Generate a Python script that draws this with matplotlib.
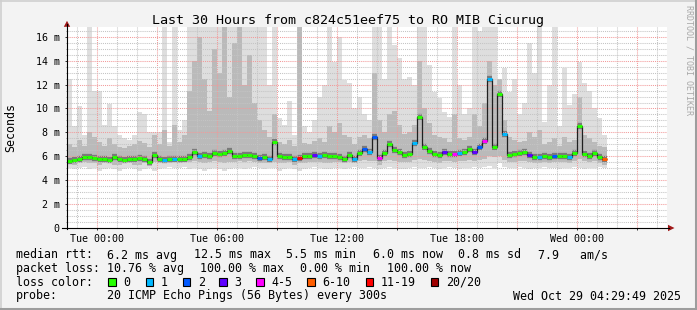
import matplotlib
matplotlib.use('Agg')
import matplotlib.pyplot as plt
import numpy as np
from matplotlib.lines import Line2D
from matplotlib.patches import Rectangle, Polygon
from matplotlib.ticker import FixedLocator, MultipleLocator

plt.rcParams['font.family'] = ['DejaVu Sans Mono']

# ---------------- data ----------------
title = "Last 30 Hours from c824c51eef75 to RO MIB Cicurug"
# time axis in hours relative to Tue 00:00
x_start, x_end = -1.5, 28.5
data_start, data_step = -1.5, 0.25          # 15-minute intervals
x_tick_hours = [0, 6, 12, 18, 24]
x_tick_labels = ["Tue 00:00", "Tue 06:00", "Tue 12:00", "Tue 18:00", "Wed 00:00"]
y_tick_values = [0, 2, 4, 6, 8, 10, 12, 14, 16]
y_tick_labels = ["0", "2 m", "4 m", "6 m", "8 m", "10 m", "12 m", "14 m", "16 m"]

# median rtt (ms)
median = [
    5.60, 5.65, 5.75, 5.95, 5.95, 5.85, 5.75, 5.80, 5.70, 5.95,
    5.75, 5.70, 5.80, 5.75, 5.85, 5.80, 5.50, 6.15, 5.80, 5.70,
    5.80, 5.75, 5.80, 5.75, 5.90, 6.35, 6.05, 6.10, 6.00, 6.30,
    6.20, 6.25, 6.45, 6.00, 6.05, 6.10, 6.10, 6.05, 5.85, 5.90,
    5.80, 7.20, 6.00, 5.95, 5.95, 5.80, 5.85, 6.00, 6.00, 6.10,
    6.05, 6.10, 6.00, 6.05, 5.90, 5.75, 6.10, 5.80, 6.30, 6.60,
    6.40, 7.60, 5.85, 6.30, 7.00, 6.55, 6.40, 6.15, 6.20, 7.10,
    9.30, 6.80, 6.45, 6.20, 6.15, 6.40, 6.20, 6.20, 6.30, 6.40,
    6.60, 6.40, 6.80, 7.30, 12.50, 6.80, 11.20, 7.90, 6.10, 6.20,
    6.30, 6.35, 6.15, 5.95, 5.90, 6.05, 5.95, 6.00, 6.00, 6.05,
    5.95, 6.30, 8.50, 6.20, 6.00, 6.30, 5.90, 5.80]

# lost pings out of 20 per interval
loss = [
    0, 0, 0, 0, 0, 0, 0, 0, 0, 0,
    0, 0, 0, 0, 0, 0, 0, 0, 0, 1,
    0, 1, 0, 0, 0, 0, 1, 0, 0, 0,
    0, 0, 0, 0, 0, 0, 0, 0, 2, 0,
    1, 0, 0, 0, 0, 1, 15, 0, 0, 3,
    1, 0, 0, 0, 0, 0, 0, 1, 0, 2,
    1, 2, 5, 0, 0, 0, 0, 0, 0, 1,
    0, 0, 0, 0, 0, 3, 0, 5, 1, 0,
    0, 3, 2, 5, 1, 0, 0, 1, 0, 0,
    0, 0, 3, 0, 1, 0, 0, 2, 0, 0,
    1, 0, 0, 0, 0, 0, 0, 8]

# smoke: lowest ping, lower quartile, upper quartile, highest ping (ms)
smoke_lo = [
    5.0, 4.9, 5.0, 5.1, 4.9, 5.0, 4.8, 4.9, 5.0, 4.9,
    4.8, 4.9, 5.0, 4.9, 4.8, 4.9, 5.0, 4.8, 4.9, 5.0,
    5.1, 5.0, 5.0, 5.1, 4.9, 5.0, 4.9, 4.8, 4.9, 5.0,
    4.9, 4.8, 4.9, 5.0, 5.0, 4.9, 5.0, 5.1, 5.0, 4.9,
    5.0, 5.0, 4.8, 4.9, 5.0, 4.9, 4.8, 4.9, 5.0, 5.1,
    5.0, 4.9, 4.9, 5.0, 5.0, 4.9, 5.0, 5.1, 5.0, 5.0,
    5.1, 5.0, 4.9, 5.0, 5.1, 5.0, 4.9, 4.9, 5.0, 5.1,
    5.0, 5.0, 5.1, 5.0, 4.9, 5.0, 5.1, 5.0, 4.9, 5.0,
    5.0, 5.1, 5.0, 5.1, 5.2, 5.0, 5.4, 5.1, 5.0, 5.0,
    5.1, 5.0, 4.9, 5.0, 5.0, 5.1, 5.0, 5.0, 4.9, 5.0,
    5.0, 5.1, 5.0, 4.9, 5.0, 5.0, 5.1, 5.0]
smoke_p25 = [
    5.4, 5.3, 5.4, 5.5, 5.4, 5.4, 5.3, 5.4, 5.4, 5.3,
    5.3, 5.4, 5.4, 5.3, 5.3, 5.4, 5.2, 5.5, 5.4, 5.4,
    5.4, 5.5, 5.4, 5.5, 5.5, 5.6, 5.5, 5.4, 5.5, 5.6,
    5.5, 5.4, 5.5, 5.5, 5.6, 5.5, 5.6, 5.5, 5.4, 5.4,
    5.4, 5.5, 5.4, 5.4, 5.5, 5.3, 5.4, 5.4, 5.5, 5.5,
    5.5, 5.4, 5.4, 5.5, 5.5, 5.4, 5.5, 5.4, 5.6, 5.7,
    5.6, 5.6, 5.3, 5.6, 5.7, 5.6, 5.5, 5.5, 5.5, 5.7,
    5.8, 5.7, 5.6, 5.5, 5.4, 5.6, 5.6, 5.5, 5.6, 5.6,
    5.7, 5.6, 5.7, 5.8, 6.0, 5.9, 6.0, 5.7, 5.5, 5.5,
    5.6, 5.6, 5.5, 5.4, 5.4, 5.5, 5.4, 5.5, 5.5, 5.5,
    5.4, 5.6, 5.8, 5.6, 5.5, 5.6, 5.4, 5.3]
smoke_p75 = [
    7.0, 6.8, 7.4, 6.9, 8.0, 7.6, 7.2, 6.9, 7.5, 7.0,
    6.8, 6.7, 6.9, 7.0, 7.3, 7.1, 6.8, 7.8, 7.0, 8.2,
    6.9, 8.6, 7.2, 7.8, 11.5, 14.0, 16.0, 12.5, 9.8, 15.0,
    13.0, 17.5, 11.0, 15.5, 18.0, 12.0, 14.5, 10.5, 9.0, 8.2,
    7.6, 9.5, 7.2, 7.0, 7.4, 6.9, 18.0, 7.1, 7.0, 7.3,
    7.5, 7.2, 8.5, 8.0, 8.8, 7.8, 7.6, 7.0, 7.6, 7.8,
    7.5, 13.0, 9.0, 8.0, 9.5, 9.8, 8.6, 7.9, 8.0, 8.6,
    14.0, 10.0, 8.8, 7.8, 7.6, 7.5, 7.2, 9.5, 7.5, 7.4,
    7.6, 9.5, 8.5, 10.5, 14.0, 12.0, 12.5, 9.0, 7.6, 7.4,
    7.2, 7.3, 8.0, 7.6, 8.2, 7.0, 7.2, 7.5, 6.9, 7.6,
    7.2, 7.4, 11.0, 7.8, 7.5, 7.2, 6.9, 6.8]
smoke_hi = [
    12.5, 8.5, 10.2, 7.8, 18.0, 11.5, 11.5, 8.6, 10.4, 8.5,
    7.8, 7.5, 7.4, 7.8, 9.7, 9.5, 8.0, 8.0, 8.0, 18.0,
    7.2, 18.0, 8.2, 9.0, 18.0, 18.0, 18.0, 18.0, 18.0, 18.0,
    18.0, 18.0, 18.0, 18.0, 18.0, 18.0, 18.0, 18.0, 18.0, 18.0,
    12.0, 18.0, 9.2, 8.6, 10.6, 7.8, 18.0, 8.5, 8.0, 9.0,
    11.0, 12.0, 18.0, 13.9, 16.0, 12.4, 12.1, 10.0, 11.0, 9.5,
    9.0, 18.0, 18.0, 12.5, 18.0, 15.3, 14.2, 12.5, 12.6, 12.0,
    18.0, 18.0, 13.6, 11.4, 10.9, 9.7, 9.3, 18.0, 12.0, 9.5,
    10.0, 18.0, 16.5, 18.0, 18.0, 18.0, 12.5, 13.4, 11.4, 12.5,
    9.5, 10.5, 15.5, 13.0, 18.0, 8.9, 12.0, 18.0, 8.5, 13.4,
    10.3, 11.2, 13.9, 12.1, 11.5, 10.0, 9.2, 7.8]

loss_labels = ["0", "1", "2", "3", "4-5", "6-10", "11-19", "20/20"]
loss_colors = ["#26ff00", "#00b8ff", "#0059ff", "#5e00ff", "#ff00ff",
               "#ff5e00", "#ff0000", "#a00000"]
loss_upper = [0, 1, 2, 3, 5, 10, 19, 20]

legend_rtt = ["median rtt:", "6.2 ms avg", "12.5 ms max", "5.5 ms min",
              "6.0 ms now", "0.8 ms sd", "7.9   am/s"]
legend_loss = ["packet loss:", "10.76 % avg", "100.00 % max", "0.00 % min",
               "100.00 % now"]
legend_probe = ["probe:", "20 ICMP Echo Pings (56 Bytes) every 300s",
                "Wed Oct 29 04:29:49 2025"]

# ---------------- layout ----------------
W, H = 697, 310
fig = plt.figure(figsize=(W / 100, H / 100), dpi=100)
fig.patch.set_facecolor('#f3f3f3')


def fx(x):
    return x / W


def fy(y):
    return 1 - y / H


AX_L, AX_R, AX_T, AX_B = 67, 667, 27, 228
ax = fig.add_axes([fx(AX_L), fy(AX_B), (AX_R - AX_L) / W, (AX_B - AX_T) / H])
ax.set_facecolor('white')
ax.set_xlim(x_start, x_end)
ax.set_ylim(0, 16.82)
for s in ax.spines.values():
    s.set_visible(False)

n = len(median)
edges = data_start + data_step * np.arange(n + 1)

ax.stairs(smoke_hi, edges, baseline=smoke_lo, fill=True, color='#dedede', lw=0, zorder=1)
ax.stairs(smoke_p75, edges, baseline=smoke_p25, fill=True, color='#bababa', lw=0, zorder=1.2)
# dark core around the median (horizontal parts only)
ax.hlines(median, edges[:-1], edges[1:], colors='#7a7a7a', lw=4.5, zorder=1.4,
          capstyle='butt')
# thin dark connecting line between intervals
ax.stairs(median, edges, baseline=None, color='#202020', lw=0.9, zorder=3)


def loss_color(c):
    for up, col in zip(loss_upper, loss_colors):
        if c <= up:
            return col
    return loss_colors[-1]


seg_colors = [loss_color(c) for c in loss]
ax.hlines(median, edges[:-1], edges[1:], colors=seg_colors, lw=2.2, zorder=4,
          capstyle='butt')

# grid
major_x = np.arange(0, 28.5, 3)
ax.xaxis.set_major_locator(FixedLocator(major_x))
ax.xaxis.set_minor_locator(FixedLocator(np.arange(-1, 28.5, 1)))
lab_map = dict(zip(x_tick_hours, x_tick_labels))
ax.set_xticklabels([lab_map.get(int(t), "") for t in major_x])
ax.yaxis.set_major_locator(FixedLocator(y_tick_values))
ax.set_yticklabels(y_tick_labels)
ax.yaxis.set_minor_locator(MultipleLocator(0.5))
ax.set_axisbelow(False)
ax.grid(which='minor', color='#c4c4c4', linestyle=(0, (1, 1)), lw=0.75)
ax.grid(which='major', color='#f29a9a', linestyle=(0, (1, 1)), lw=0.75)
ax.tick_params(axis='both', which='both', labelsize=7.2, colors='#000000')
ax.tick_params(axis='x', which='major', length=1.5, width=0.7, pad=2.8, color='#333333')
ax.tick_params(axis='x', which='minor', length=0)
ax.tick_params(axis='y', which='major', length=1.5, width=0.7, pad=3.9, color='#333333')
ax.tick_params(axis='y', which='minor', length=1.0, width=0.7, color='#888888')

# axes lines and arrows
fig.add_artist(Line2D([fx(67), fx(67)], [fy(228.5), fy(24)], color='black', lw=0.8))
fig.add_artist(Line2D([fx(62), fx(669)], [fy(228), fy(228)], color='black', lw=0.8))
fig.add_artist(Polygon([[fx(63.8), fy(26.8)], [fx(70.2), fy(26.8)], [fx(67), fy(20.8)]],
                       closed=True, color='#a01818', lw=0))
fig.add_artist(Polygon([[fx(668), fy(224.8)], [fx(668), fy(231.2)], [fx(674.5), fy(228)]],
                       closed=True, color='#a01818', lw=0))

# frame shading
fig.add_artist(Line2D([0, 1], [fy(0.7), fy(0.7)], color='#cfcfcf', lw=1.2))
fig.add_artist(Line2D([fx(0.7), fx(0.7)], [0, 1], color='#cfcfcf', lw=1.2))
fig.add_artist(Line2D([0, 1], [fy(308.6), fy(308.6)], color='#9d9d9d', lw=2.2))
fig.add_artist(Line2D([fx(695.6), fx(695.6)], [0, 1], color='#9d9d9d', lw=2.2))

# texts
fig.text(fx(347.7), fy(24), title, ha='center', va='baseline', fontsize=9.6)
fig.text(fx(11), fy(127.7), "Seconds", rotation=90, ha='center', va='center', fontsize=8.4)
fig.text(fx(688.5), fy(60), "RRDTOOL / TOBI OETIKER", rotation=270, ha='center',
         va='center', fontsize=6.0, color='#a8a8a8')

FS = 8.4
rtt_x = [16, 107.3, 194, 286, 372.7, 458.3, 537.7]
for s, x in zip(legend_rtt, rtt_x):
    fig.text(fx(x), fy(258.5), s, ha='left', va='baseline', fontsize=FS)
loss_x = [16, 107.3, 200.5, 300, 386.7]
for s, x in zip(legend_loss, loss_x):
    fig.text(fx(x), fy(272.2), s, ha='left', va='baseline', fontsize=FS)
fig.text(fx(16), fy(285.9), "loss color:", ha='left', va='baseline', fontsize=FS)
sw_x = [108.3, 145.7, 182.7, 219.3, 256, 307.3, 365.7, 430.7]
for lab, col, x in zip(loss_labels, loss_colors, sw_x):
    fig.add_artist(Rectangle((fx(x), fy(285.7)), 7.7 / W, 8 / H, facecolor=col,
                             edgecolor='black', lw=0.8))
    fig.text(fx(x + 15), fy(285.9), lab, ha='left', va='baseline', fontsize=FS)
probe_x = [16, 107.3, 513.3]
for s, x in zip(legend_probe, probe_x):
    fig.text(fx(x), fy(299.5), s, ha='left', va='baseline', fontsize=FS)

fig.savefig('out.png', dpi=100, facecolor=fig.get_facecolor())
